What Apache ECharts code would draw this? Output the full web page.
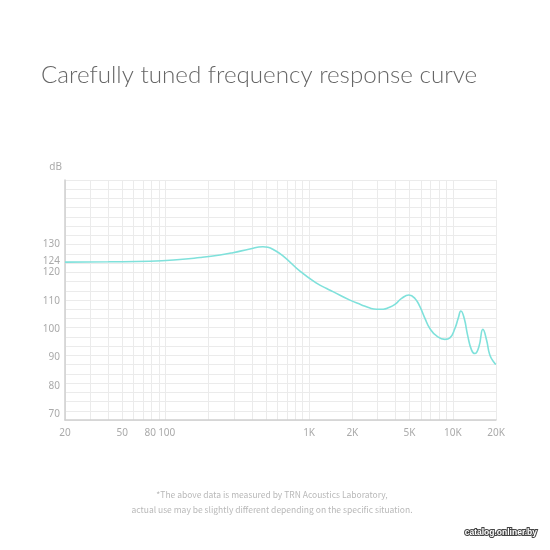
<!DOCTYPE html>
<html>
<head>
<meta charset="utf-8">
<script src="https://cdn.jsdelivr.net/npm/echarts@6/dist/echarts.min.js"></script>
<style>
  html, body { margin: 0; padding: 0; background: #fff; }
  #chart { width: 550px; height: 550px; }
</style>
</head>
<body>
<div id="chart"></div>
<script>
// frequency response (Hz, dB)
var freqs = [20, 40, 78, 120, 174, 240, 295, 387, 477, 517, 560, 658, 864, 1134, 1325, 1466,
  1924, 2300, 2652, 2952, 3282, 3600, 3958, 4406, 4954, 5454, 5908, 6402, 6934, 7722,
  8811, 9550, 10351, 10916, 11396, 12014, 12686, 13522, 14258, 15206, 16212, 17206,
  18140, 19648, 20000];
var levels = [123.6, 123.7, 123.9, 124.4, 125.2, 126.1, 126.9, 128.2, 129.0, 128.8, 128.1, 125.8,
  120.4, 116.1, 114.3, 113.2, 110.2, 108.6, 107.4, 107.0, 107.0, 107.6, 108.7, 110.8,
  112.0, 110.8, 107.9, 103.8, 100.2, 97.6, 96.4, 96.9, 100.2, 103.8, 106.4, 103.8, 97.9,
  92.6, 91.4, 93.8, 99.9, 96.1, 90.8, 87.9, 87.6];

var freqLabels = [20, 50, 80, 100, 1000, 2000, 5000, 10000, 20000];
var freqGrid = [20, 30, 40, 50, 60, 70, 80, 90, 100, 200, 300, 400, 500, 600, 700, 800, 900,
  1000, 2000, 3000, 4000, 5000, 6000, 7000, 8000, 9000, 10000, 20000];
var dbLabels = [70, 80, 90, 100, 110, 120, 124, 130];

var points = freqs.map(function (f, i) { return [f, levels[i]]; });

var myChart = echarts.init(document.getElementById('chart'));
var option = {
  backgroundColor: '#fff',
  animation: false,
  title: {
    text: 'Carefully tuned frequency response curve',
    left: 36,
    top: 58,
    textStyle: { fontFamily: 'Lato', fontWeight: 300, fontSize: 24.2, color: '#666' }
  },
  grid: { left: 65, right: 54, top: 180, bottom: 130 },
  xAxis: {
    type: 'log',
    logBase: 10,
    min: 20,
    max: 20000,
    axisLine: { show: true, lineStyle: { color: '#cfcfcf', width: 1.5 } },
    axisTick: { show: false, customValues: freqGrid },
    axisLabel: {
      customValues: freqLabels,
      margin: 8,
      color: '#aaa',
      fontSize: 10,
      fontFamily: 'Noto Sans',
      formatter: function (v) {
        if (v === 80) return '80 ';
        if (v === 100) return ' 100';
        return v >= 1000 ? (v / 1000) + 'K' : String(v);
      }
    },
    splitLine: { show: true, lineStyle: { color: '#ebebeb', width: 1 } }
  },
  yAxis: [
    {
      type: 'value',
      min: 68,
      max: 152.5,
      name: 'dB',
      nameGap: 8,
      nameTextStyle: { color: '#aaa', fontSize: 10, fontFamily: 'Noto Sans', align: 'right', padding: [0, 3, 0, 0] },
      axisLine: { show: true, lineStyle: { color: '#cfcfcf', width: 1.5 } },
      axisTick: { show: false },
      axisLabel: { customValues: dbLabels, color: '#aaa', fontSize: 10, fontFamily: 'Noto Sans', margin: 5 },
      splitLine: { show: false }
    },
    {
      type: 'value',
      min: 0,
      max: 26,
      interval: 1,
      position: 'left',
      axisLine: { show: false },
      axisTick: { show: false },
      axisLabel: { show: false },
      splitLine: { show: true, lineStyle: { color: '#ebebeb', width: 1 } }
    }
  ],
  series: [{
    type: 'line',
    yAxisIndex: 0,
    data: points,
    smooth: 0.5,
    symbol: 'none',
    lineStyle: { color: '#7fe1db', width: 1.6 }
  }],
  graphic: [
    {
      type: 'text',
      x: 272,
      y: 487,
      style: {
        text: '*The above data is measured by TRN Acoustics Laboratory,\nactual use may be slightly different depending on the specific situation.',
        align: 'center',
        fill: '#b8b8b8',
        fontSize: 8.5,
        lineHeight: 15,
        fontFamily: 'Noto Sans CJK SC'
      }
    },
    {
      type: 'text',
      right: 12,
      top: 527,
      style: {
        text: 'catalog.onliner.by',
        fill: '#fff',
        stroke: '#444',
        lineWidth: 2,
        fontSize: 8.5,
        fontWeight: 'bold',
        fontFamily: 'Liberation Sans'
      }
    }
  ]
};

myChart.setOption(option);
</script>
</body>
</html>
